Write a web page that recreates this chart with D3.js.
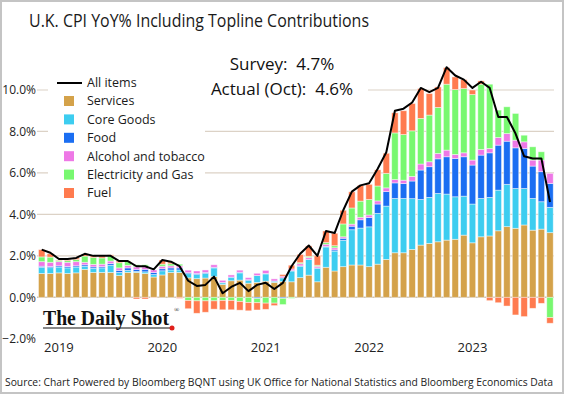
<!DOCTYPE html>
<html>
<head>
<meta charset="utf-8">
<script src="https://cdn.jsdelivr.net/npm/d3@7"></script>
<style>
  body { margin: 0; background: #fff; }
  svg { display: block; font-family: "Open Sans", sans-serif; }
</style>
</head>
<body>
<div id="chart"></div>
<script>
// months Nov 2018 .. Oct 2023
var months = d3.timeMonths(new Date(2018, 10, 1), new Date(2023, 10, 1));

var seriesNames = ["Services", "Core Goods", "Food", "Alcohol and tobacco", "Electricity and Gas", "Fuel"];
var seriesColors = ["#d4a24a", "#3dcdf0", "#1b6ef2", "#ee78e6", "#78f870", "#ff7b4f"];

var services = [1.15, 1.15, 1.18, 1.15, 1.18, 1.35, 1.20, 1.20, 1.20, 1.05, 1.20, 1.20, 1.15, 0.98,
    1.08, 1.20, 1.20, 0.94, 0.90, 0.93, 1.00, 0.62, 0.80, 0.83, 0.68, 0.72,
    0.78, 0.72, 0.76, 0.75, 0.95, 1.07, 0.75, 1.45, 1.27, 1.48, 1.56, 1.56,
    1.48, 1.60, 1.83, 2.15, 2.15, 2.31, 2.52, 2.60, 2.68, 2.76, 2.80, 3.00,
    2.63, 2.92, 2.96, 3.21, 3.41, 3.33, 3.49, 3.24, 3.29, 3.12];
var coreGoods = [0.30, 0.28, 0.28, 0.27, 0.28, 0.15, 0.20, 0.22, 0.35, 0.15, 0.10, 0.05, 0.08, 0.12,
    0.20, 0.12, 0.12, 0.20, 0.20, 0.22, 0.42, 0.08, 0.15, 0.35, 0.14, 0.33,
    0.35, 0.05, 0.18, 0.52, 0.55, 0.75, 0.65, 0.98, 0.96, 1.27, 1.70, 1.78,
    1.92, 2.45, 2.57, 2.62, 2.62, 2.45, 2.20, 2.22, 2.33, 2.22, 2.05, 1.88,
    1.87, 1.85, 1.86, 1.96, 2.04, 1.92, 1.76, 1.53, 1.32, 1.22];
var food = [0.05, 0.06, 0.06, 0.07, 0.06, 0.07, 0.07, 0.06, 0.08, 0.10, 0.12, 0.10, 0.12, 0.10,
    0.10, 0.10, 0.10, 0.05, 0.05, 0.05, 0.03, 0.02, 0.03, 0.03, 0.03, -0.06,
    0.02, 0.02, -0.05, 0.02, 0.02, 0.02, 0.02, 0.03, 0.06, 0.10, 0.17, 0.40,
    0.45, 0.45, 0.70, 0.75, 0.72, 0.85, 1.42, 1.48, 1.67, 1.80, 1.85, 1.90,
    1.88, 2.09, 2.15, 2.17, 2.08, 1.96, 1.93, 1.56, 1.45, 1.15];
var alcohol = [0.22, 0.20, 0.20, 0.20, 0.20, 0.12, 0.12, 0.12, 0.12, 0.12, 0.12, 0.12, 0.12, 0.12,
    0.12, 0.10, 0.10, 0.12, 0.12, 0.12, 0.12, 0.10, 0.10, 0.10, 0.10, 0.11,
    0.15, 0.10, 0.08, 0.08, 0.10, 0.08, 0.08, 0.10, 0.10, 0.07, 0.10, 0.12,
    0.12, 0.15, 0.18, 0.16, 0.16, 0.22, 0.29, 0.24, 0.26, 0.32, 0.19, 0.19,
    0.24, 0.27, 0.21, 0.37, 0.37, 0.37, 0.32, 0.29, 0.56, 0.49];
var elecGas = [0.23, 0.25, 0.06, 0.08, 0.10, 0.30, 0.33, 0.30, 0.25, 0.25, 0.20, 0.10, 0.10, 0.00,
    0.10, 0.10, 0.08, -0.15, -0.17, -0.17, -0.17, -0.15, -0.15, -0.20, -0.25, -0.20,
    -0.28, -0.28, -0.30, -0.05, 0.05, 0.06, 0.05, 0.08, 0.10, 0.62, 0.78, 0.78,
    0.75, 0.72, 0.70, 2.25, 2.20, 2.20, 2.20, 2.25, 2.22, 3.18, 3.13, 3.10,
    3.16, 3.15, 3.10, 1.32, 1.29, 1.29, 0.32, 0.64, 0.40, -0.98];
var fuel = [0.35, 0.16, 0.02, 0.06, 0.08, 0.10, 0.08, 0.10, 0.05, 0.08, 0.01, -0.08, -0.08, -0.02,
    0.20, 0.08, -0.05, -0.40, -0.60, -0.55, -0.40, -0.45, -0.45, -0.42, -0.40, -0.35,
    -0.30, -0.12, 0.08, 0.18, 0.40, 0.50, 0.45, 0.56, 0.60, 0.66, 0.78, 0.76,
    0.73, 0.78, 0.97, 0.97, 1.15, 1.32, 1.44, 1.04, 0.99, 0.80, 0.61, 0.43,
    0.22, 0.16, -0.16, -0.26, -0.42, -0.85, -0.93, -0.53, -0.29, -0.27];
var allItems = [2.3, 2.15, 1.85, 1.85, 1.9, 2.1, 2.0, 2.0, 2.0, 1.75, 1.75, 1.5, 1.5, 1.35,
    1.8, 1.72, 1.5, 0.8, 0.55, 0.6, 1.0, 0.2, 0.5, 0.7, 0.3, 0.6,
    0.7, 0.4, 0.7, 1.5, 2.1, 2.5, 2.0, 3.2, 3.1, 4.2, 5.1, 5.4,
    5.5, 6.2, 7.0, 9.0, 9.1, 9.4, 10.1, 9.9, 10.1, 11.1, 10.7, 10.5,
    10.1, 10.4, 10.1, 8.7, 8.7, 7.9, 6.8, 6.7, 6.7, 4.6];

var yTicks = [-2, 0, 2, 4, 6, 8, 10];
var gridTicks = [0, 2, 4, 6, 8, 10];
var yearLabels = [2019, 2020, 2021, 2022, 2023];

var width = 564, height = 394;

var table = months.map(function (m, i) {
    return {
        "Services": services[i], "Core Goods": coreGoods[i], "Food": food[i],
        "Alcohol and tobacco": alcohol[i], "Electricity and Gas": elecGas[i], "Fuel": fuel[i]
    };
});

var stacked = d3.stack()
    .keys(seriesNames)
    .offset(d3.stackOffsetDiverging)(table);

var xScale = d3.scaleBand()
    .domain(d3.range(months.length))
    .range([37.4, 554.3])
    .paddingInner(0.25)
    .paddingOuter(0.125);

var yScale = d3.scaleLinear()
    .domain([-2, 10])
    .range([338.8, 90]);

var svg = d3.select("#chart")
    .append("svg")
    .attr("width", width)
    .attr("height", height);

svg.append("rect")
    .attr("x", 1).attr("y", 1)
    .attr("width", width - 2).attr("height", height - 2)
    .attr("fill", "#fff")
    .attr("stroke", "#c4c4c4")
    .attr("stroke-width", 2);

// title
svg.append("text")
    .attr("x", 29).attr("y", 27)
    .attr("font-size", 17.5)
    .attr("textLength", 340)
    .attr("lengthAdjust", "spacingAndGlyphs")
    .attr("fill", "#1a1a1a")
    .text("U.K. CPI YoY% Including Topline Contributions");

// grid
svg.append("g")
    .selectAll("line")
    .data(gridTicks)
    .enter()
    .append("line")
    .attr("x1", 37).attr("x2", 554)
    .attr("y1", function (d) { return yScale(d); })
    .attr("y2", function (d) { return yScale(d); })
    .attr("stroke", function (d) { return d === 0 ? "#cfc3b3" : "#dcd2c6"; })
    .attr("stroke-width", function (d) { return d === 0 ? 1.5 : 1.2; });

// y labels
svg.append("g")
    .selectAll("text")
    .data(yTicks)
    .enter()
    .append("text")
    .attr("x", 36)
    .attr("y", function (d) { return yScale(d); })
    .attr("dy", "0.35em")
    .attr("text-anchor", "end")
    .attr("font-size", 12)
    .attr("fill", "#222")
    .text(function (d) { return d3.format(".1f")(d) + "%"; });

// white boxes behind legend and annotation
svg.append("rect").attr("x", 48).attr("y", 72).attr("width", 157).attr("height", 132).attr("fill", "#fff");
svg.append("rect").attr("x", 200).attr("y", 50).attr("width", 168).attr("height", 52).attr("fill", "#fff");

// bars
svg.append("g")
    .selectAll("g")
    .data(stacked)
    .enter()
    .append("g")
    .attr("fill", function (d, i) { return seriesColors[i]; })
    .selectAll("rect")
    .data(function (d) { return d; })
    .enter()
    .append("rect")
    .attr("x", function (d, i) { return xScale(i); })
    .attr("width", xScale.bandwidth())
    .attr("y", function (d) { return yScale(Math.max(d[0], d[1])); })
    .attr("height", function (d) { return Math.abs(yScale(d[0]) - yScale(d[1])); })
    .attr("stroke", "#ffffff")
    .attr("stroke-opacity", 0.55)
    .attr("stroke-width", 0.8);

// all items line
var line = d3.line()
    .x(function (d, i) { return xScale(i) + xScale.bandwidth() / 2; })
    .y(function (d) { return yScale(d); });

svg.append("path")
    .datum(allItems)
    .attr("d", line)
    .attr("fill", "none")
    .attr("stroke", "#000")
    .attr("stroke-width", 2)
    .attr("stroke-linejoin", "round");

// x labels at January
svg.append("g")
    .selectAll("text")
    .data(yearLabels)
    .enter()
    .append("text")
    .attr("x", function (d) {
        var i = months.findIndex(function (m) { return m.getFullYear() === d && m.getMonth() === 0; });
        return xScale(i) + xScale.bandwidth() / 2;
    })
    .attr("y", 352)
    .attr("text-anchor", "middle")
    .attr("font-size", 13)
    .attr("fill", "#222")
    .text(function (d) { return d; });

// legend
var legend = svg.append("g").attr("font-size", 12.5).attr("fill", "#1a1a1a");
legend.append("line")
    .attr("x1", 57).attr("x2", 82).attr("y1", 83).attr("y2", 83)
    .attr("stroke", "#000").attr("stroke-width", 2);
legend.append("text").attr("x", 87).attr("y", 83).attr("dy", "0.35em").text("All items");
legend.selectAll("rect.key")
    .data(seriesNames)
    .enter()
    .append("rect")
    .attr("class", "key")
    .attr("x", 64)
    .attr("y", function (d, i) { return 96 + i * 18.4; })
    .attr("width", 10).attr("height", 10)
    .attr("fill", function (d, i) { return seriesColors[i]; });
legend.selectAll("text.key")
    .data(seriesNames)
    .enter()
    .append("text")
    .attr("class", "key")
    .attr("x", 87)
    .attr("y", function (d, i) { return 101 + i * 18.4; })
    .attr("dy", "0.35em")
    .text(function (d) { return d; });

// annotation
svg.append("text")
    .attr("x", 282).attr("y", 70)
    .attr("text-anchor", "middle")
    .attr("font-size", 17)
    .attr("fill", "#111")
    .style("white-space", "pre")
    .text("Survey:  4.7%");
svg.append("text")
    .attr("x", 282).attr("y", 95)
    .attr("text-anchor", "middle")
    .attr("font-size", 17)
    .attr("fill", "#111")
    .style("white-space", "pre")
    .text("Actual (Oct):  4.6%");

// logo
svg.append("text")
    .attr("x", 43).attr("y", 325)
    .attr("font-family", "Liberation Serif, serif")
    .attr("font-weight", "bold")
    .attr("font-size", 20)
    .attr("textLength", 126)
    .attr("lengthAdjust", "spacingAndGlyphs")
    .attr("fill", "#111")
    .text("The Daily Shot");
svg.append("text")
    .attr("x", 174).attr("y", 312)
    .attr("font-family", "Liberation Serif, serif")
    .attr("font-size", 7)
    .attr("fill", "#111")
    .text("\u00ae");
svg.append("line")
    .attr("x1", 43).attr("x2", 170).attr("y1", 328).attr("y2", 328)
    .attr("stroke", "#111").attr("stroke-width", 1);
svg.append("circle")
    .attr("cx", 172).attr("cy", 328).attr("r", 2.5)
    .attr("fill", "#e0201b");

// source
svg.append("text")
    .attr("x", 5).attr("y", 386)
    .attr("font-size", 10.5)
    .attr("textLength", 548)
    .attr("lengthAdjust", "spacingAndGlyphs")
    .attr("fill", "#222")
    .text("Source: Chart Powered by Bloomberg BQNT using UK Office for National Statistics and Bloomberg Economics Data");
</script>
</body>
</html>
